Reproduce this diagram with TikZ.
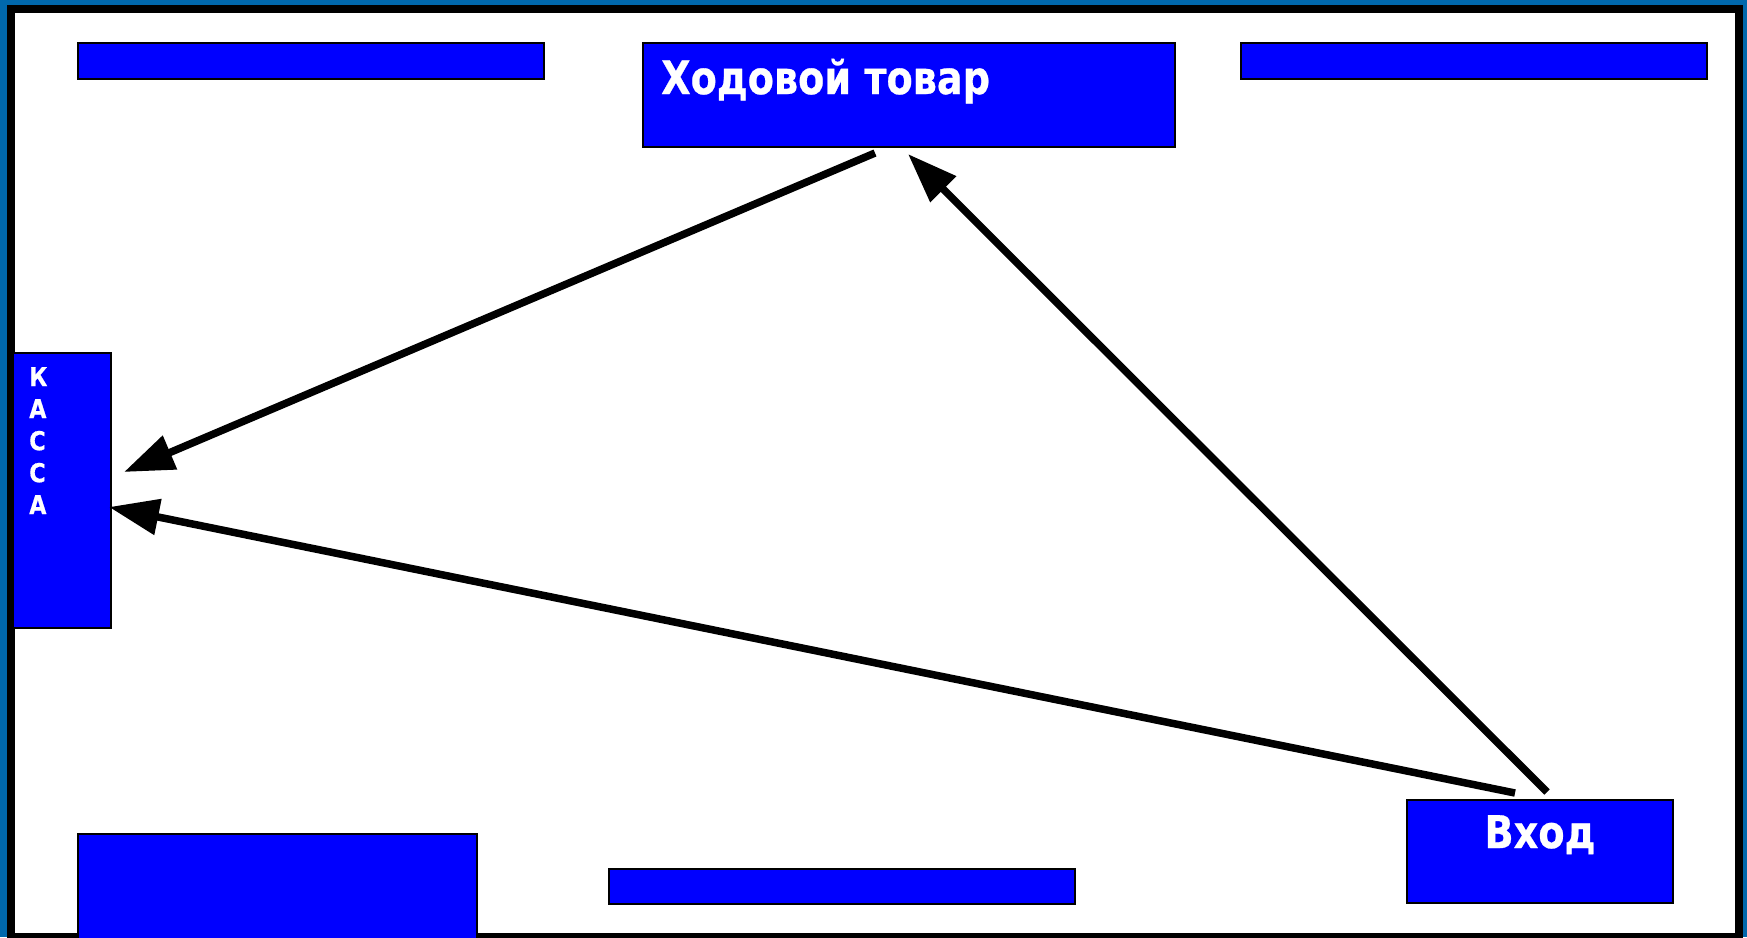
\documentclass[tikz,border=0pt]{standalone}
\usepackage{fontspec}
\usepackage{graphicx}
\setmainfont{DejaVu Sans}[BoldFeatures={FakeBold=0.6}]
\usetikzlibrary{arrows.meta}
\definecolor{frameblue}{RGB}{0,104,172}
\definecolor{boxblue}{RGB}{0,0,255}
\begin{document}
\begin{tikzpicture}[x=1pt,y=-1pt,
  shelf/.style={draw=black, line width=1.5pt, fill=boxblue, inner sep=0pt, anchor=north west},
  lbl/.style={text=white, inner sep=0pt},
  arr/.style={line width=7.5pt, -{Triangle[length=50pt,width=35pt]}}]
\useasboundingbox (0,0) rectangle (1747,937);
\clip (0,0) rectangle (1747,937);
\fill[frameblue] (0,0) rectangle (1747,937);
\fill[black] (7,5) rectangle (1743,940);
\fill[white] (15,13) rectangle (1735,933);
% shelves
\node[shelf, minimum width=466pt, minimum height=36pt] (tl) at (77,42) {};
\node[shelf, minimum width=532pt, minimum height=104pt] (hot) at (642,42) {};
\node[shelf, minimum width=466pt, minimum height=36pt] (tr) at (1240,42) {};
\node[shelf, minimum width=98pt, minimum height=275pt] (kassa) at (12,352) {};
\node[shelf, minimum width=399pt, minimum height=120pt] (bl) at (77,833) {};
\node[shelf, minimum width=466pt, minimum height=35pt] (bm) at (608,868) {};
\node[shelf, minimum width=266pt, minimum height=103pt] (vhod) at (1406,799) {};
% texts
\node[lbl, anchor=base west, font=\bfseries\fontsize{46}{52}\selectfont] (hottext) at (661,94) {\scalebox{0.83}[1]{Ходовой товар}};
\node[lbl, anchor=base, font=\bfseries\fontsize{45}{50}\selectfont] (vhodtext) at (1540,848) {\scalebox{0.85}[1]{Вход}};
\node[lbl, anchor=north west, align=left, font=\bfseries\fontsize{26}{32}\selectfont] (kassatext) at (29,367) {\scalebox{0.86}[1]{К}\\\scalebox{0.86}[1]{А}\\\scalebox{0.86}[1]{С}\\\scalebox{0.86}[1]{С}\\\scalebox{0.86}[1]{А}};
% arrows
\coordinate (a1s) at (875,153);
\coordinate (a1e) at (124,472);
\coordinate (a2s) at (1515,793);
\coordinate (a2e) at (109,507);
\coordinate (a3s) at (1547,792);
\coordinate (a3e) at (908,154);
\draw[arr] (a1s) -- (a1e);
\draw[arr] (a2s) -- (a2e);
\draw[arr] (a3s) -- (a3e);
\end{tikzpicture}
\end{document}
